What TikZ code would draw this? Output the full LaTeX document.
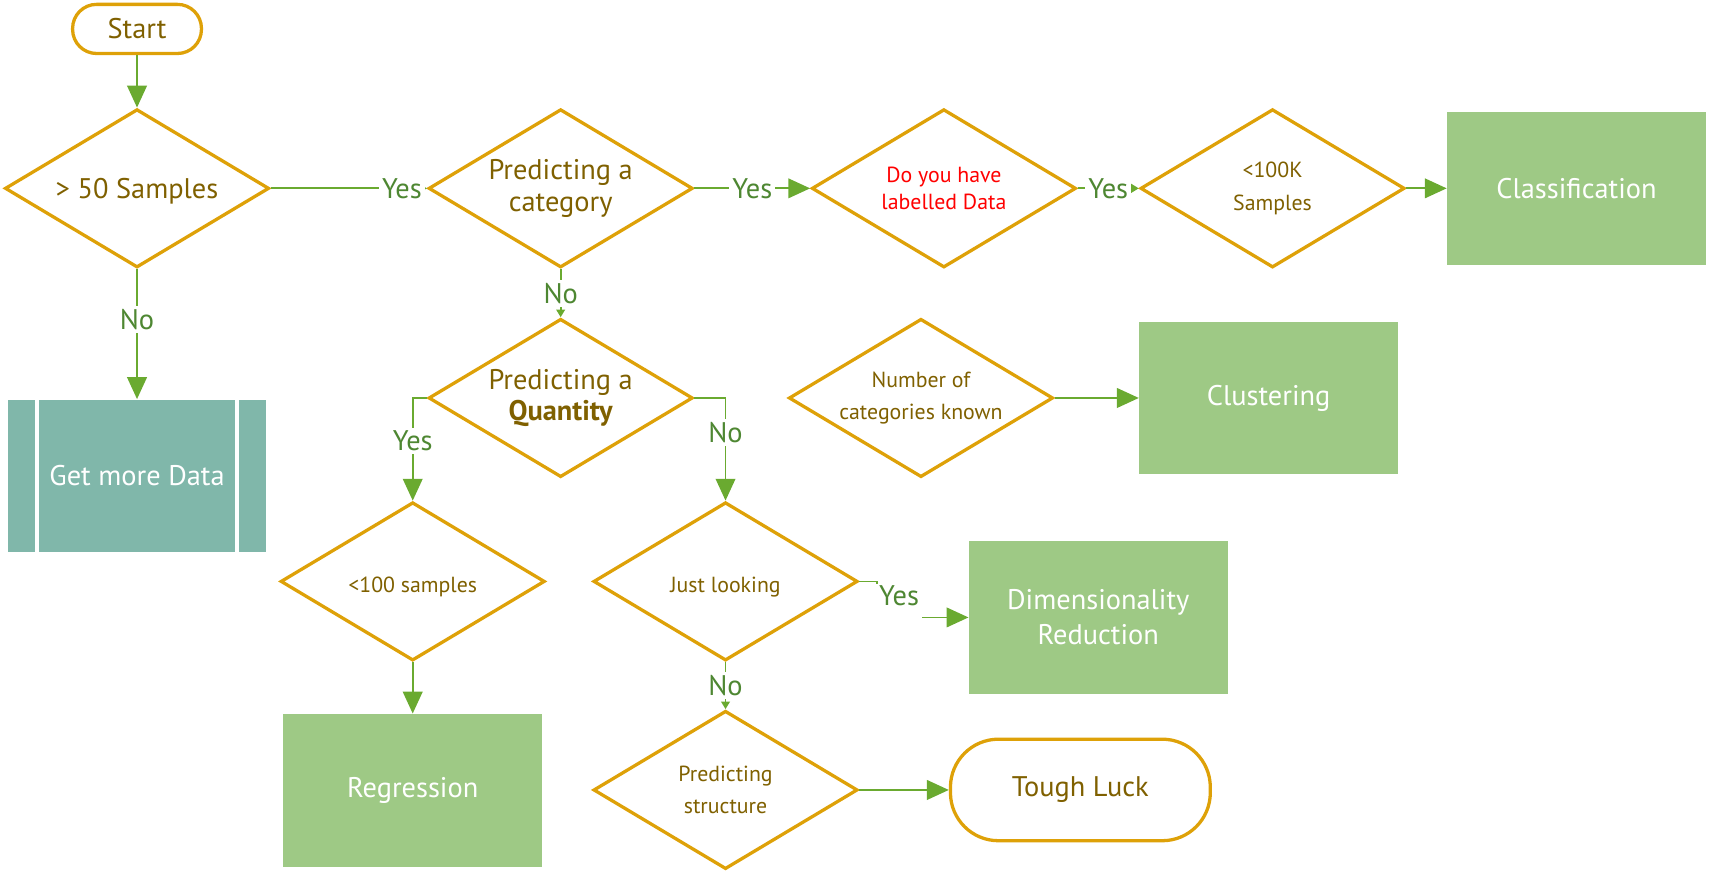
\documentclass[tikz,border=0pt]{standalone}
\usepackage{fontspec}
\setmainfont{PT Sans}
\usepackage{tikz}
\usetikzlibrary{shapes, arrows.meta, positioning, calc}
\definecolor{gold}{RGB}{222,161,8}
\definecolor{bark}{RGB}{127,96,0}
\definecolor{grass}{RGB}{106,170,48}
\definecolor{moss}{RGB}{78,135,50}
\definecolor{leaf}{RGB}{158,201,133}
\definecolor{sea}{RGB}{128,183,170}
\tikzset{
  decision/.style = {diamond, draw=gold, line width=1.5pt, aspect=1.67, inner sep=0pt, minimum width=121pt, minimum height=72.5pt, align=center, text=bark},
  outcome/.style = {fill=leaf, align=center, text=white, minimum width=118.5pt, minimum height=70pt, font=\fontsize{13}{16}\selectfont},
  arrow/.style = {-{Triangle[length=10pt, width=9pt]}, draw=grass, line width=0.8pt}
}

\begin{document}
\begin{tikzpicture}[
    node distance=22pt and 52pt,
    terminal/.style={rectangle, draw=gold, line width=1.5pt, text=bark, font=\fontsize{13}{15}\selectfont},
    bigtext/.style={font=\fontsize{13}{14.5}\selectfont},
    smalltext/.style={font=\fontsize{10}{15}\selectfont},
    answer/.style={fill=white, text=moss, inner sep=1.5pt, font=\fontsize{13}{15}\selectfont},
    stub/.style={-{Triangle[length=3.5pt, width=4pt]}, draw=grass, line width=0.8pt}
  ]

    \useasboundingbox (0pt,0pt) rectangle (784pt,-401.5pt);

    \node[decision, bigtext, text height=12.5pt, text depth=3pt] (samples) at (62.75pt,-86.25pt) {> 50 Samples};
    \node[terminal, rounded corners=11pt, minimum width=59pt, minimum height=22.5pt, above=24pt of samples] (start) {Start};
    \node[outcome, fill=sea, below=59.5pt of samples, path picture={
        \draw[white, line width=1.5pt]
          ([xshift=13.5pt]path picture bounding box.north west) -- ([xshift=13.5pt]path picture bounding box.south west)
          ([xshift=-13.5pt]path picture bounding box.north east) -- ([xshift=-13.5pt]path picture bounding box.south east);
      }] (moredata) {Get more Data};

    \node[decision, bigtext, right=71.5pt of samples] (category) {Predicting a\\category};
    \node[decision, text=red, font=\fontsize{10}{12.5}\selectfont, right=53pt of category] (labelled) {Do you have\\labelled Data};
    \node[decision, smalltext, right=28pt of labelled] (bigset) {<100K\\Samples};
    \node[outcome, right=18.5pt of bigset] (classif) {Classification};

    \node[decision, bigtext, below=22pt of category] (quantity) {Predicting a\\{\bfseries Quantity}};
    \node[decision, smalltext, right=42.5pt of quantity] (known) {Number of\\categories known};
    \node[outcome, right=38.5pt of known] (cluster) {Clustering};

    \node[decision, smalltext, text height=12.5pt, text depth=2pt, below=10pt of quantity, xshift=-67.75pt] (fewsamples) {<100 samples};
    \node[decision, smalltext, text height=12.5pt, text depth=2pt, below=10pt of quantity, xshift=75.5pt] (looking) {Just looking};
    \node[outcome, below=23.5pt of fewsamples] (regress) {Regression};
    \node[decision, smalltext, below=21.5pt of looking] (structure) {Predicting\\structure};
    \node[outcome, right=50pt of looking, yshift=-16.5pt] (dimred) {Dimensionality\\Reduction};
    \node[terminal, rounded corners=22pt, minimum width=119pt, minimum height=46.5pt, right=41pt of structure] (luck) {Tough Luck};

    \draw[arrow] (start.south) -- (samples.north);
    \draw[arrow] (samples.south) -- node[answer, pos=0.385] {No} (moredata.north);
    \draw[stub] (samples.east) -- node[answer, pos=0.84] {Yes} (category.west);
    \draw[arrow] (category.east) -- node[answer] {Yes} (labelled.west);
    \draw[stub] (labelled.east) -- node[answer] {Yes} (bigset.west);
    \draw[arrow] (bigset.east) -- (classif.west);

    \draw[stub] (category.south) -- node[answer] {No} (quantity.north);
    \draw[arrow] (quantity.west) -| node[answer, pos=0.71] {Yes} (fewsamples.north);
    \draw[arrow] (quantity.east) -| node[answer, pos=0.67] {No} (looking.north);
    \draw[arrow] (known.east) -- (cluster.west);

    \draw[arrow] (fewsamples.south) -- (regress.north);
    \draw[arrow] (looking.east) -- ++(8pt,0) |- node[answer, pos=0, anchor=north west, xshift=-0.8pt, yshift=-0.75pt, inner xsep=1.5pt, inner ysep=1pt, text height=9pt, text depth=20pt] {Yes} (dimred.west);
    \draw[stub] (looking.south) -- node[answer] {No} (structure.north);
    \draw[arrow] (structure.east) -- (luck.west);

  \end{tikzpicture}
\end{document}
